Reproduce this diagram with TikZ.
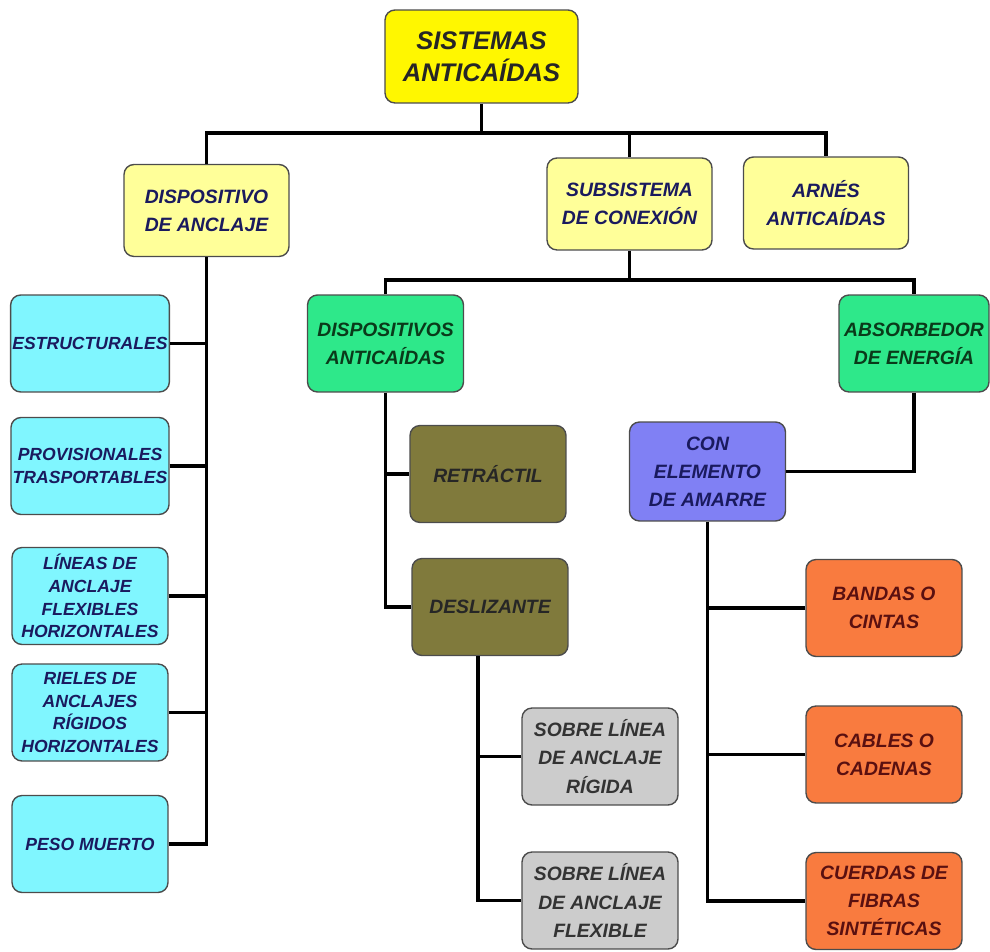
\documentclass[tikz,border=0pt]{standalone}
\usepackage{fontspec}
\setmainfont{Liberation Sans}
\usetikzlibrary{positioning,calc}
\definecolor{rootyellow}{HTML}{FFF700}
\definecolor{paleyellow}{HTML}{FFFF99}
\definecolor{tipocyan}{HTML}{80F6FF}
\definecolor{devgreen}{HTML}{2EE88A}
\definecolor{devolive}{HTML}{807A3C}
\definecolor{gearpurple}{HTML}{8080F4}
\definecolor{railgray}{HTML}{CCCCCC}
\definecolor{ropeorange}{HTML}{F97B3F}
\definecolor{navytext}{HTML}{1A1A5E}
\definecolor{greentext}{HTML}{0A3A1A}
\definecolor{redtext}{HTML}{5A1010}
\tikzset{
    caidabox/.style={draw=black!70, line width=0.8pt, rounded corners=0.2cm, align=center, inner sep=1pt, font=\bfseries\itshape\fontsize{11}{16}\selectfont, minimum width=3.12cm, minimum height=1.94cm},
    rootbox/.style={caidabox, fill=rootyellow, text=black!85, font=\bfseries\itshape\fontsize{14.5}{18}\selectfont, minimum width=3.86cm, minimum height=1.86cm},
    levelbox/.style={caidabox, fill=paleyellow, text=navytext, minimum width=3.3cm, minimum height=1.84cm},
    tipobox/.style={caidabox, fill=tipocyan, text=navytext, font=\bfseries\itshape\fontsize{10}{13}\selectfont},
    devbox/.style={caidabox, fill=devgreen, text=greentext},
    olivebox/.style={caidabox, fill=devolive, text=black!85},
    graybox/.style={caidabox, fill=railgray, text=black!80},
    amarrebox/.style={caidabox, fill=gearpurple, text=navytext, minimum height=1.98cm},
    orangebox/.style={caidabox, fill=ropeorange, text=redtext},
    caidaline/.style={line width=2.2pt, black}
}
\begin{document}
\begin{tikzpicture}[x=0.02cm, y=-0.02cm]
    \useasboundingbox (0,0) rectangle (990,952);
    % top and first level
    \node[rootbox] (sistemas) at (481.5,56.5) {SISTEMAS\\ANTICAÍDAS};
    \node[levelbox] (anclaje) at (206.5,210.5) {DISPOSITIVO\\DE ANCLAJE};
    \node[levelbox] (subsistema) at (629.5,204) {SUBSISTEMA\\DE CONEXIÓN};
    \node[levelbox] (arnes) at (826,203) {ARNÉS\\ANTICAÍDAS};
    % anchorage types
    \node[tipobox] (estructurales) at (90,343.5) {ESTRUCTURALES};
    \node[tipobox] (provisionales) at (90,466) {PROVISIONALES\\TRASPORTABLES};
    \node[tipobox] (lineas) at (90,596) {LÍNEAS DE\\ANCLAJE\\FLEXIBLES\\HORIZONTALES};
    \node[tipobox] (rieles) at (90,712.5) {RIELES DE\\ANCLAJES\\RÍGIDOS\\HORIZONTALES};
    \node[tipobox] (peso) at (90,844) {PESO MUERTO};
    % connection subsystem
    \node[devbox] (dispositivos) at (385.5,343.5) {DISPOSITIVOS\\ANTICAÍDAS};
    \node[devbox, minimum width=3.0cm] (absorbedor) at (914,343.5) {ABSORBEDOR\\DE ENERGÍA};
    \node[olivebox] (retractil) at (488,474) {RETRÁCTIL};
    \node[olivebox] (deslizante) at (490,607) {DESLIZANTE};
    \node[graybox] (rigida) at (600,756.5) {SOBRE LÍNEA\\DE ANCLAJE\\RÍGIDA};
    \node[graybox] (flexible) at (600,900.5) {SOBRE LÍNEA\\DE ANCLAJE\\FLEXIBLE};
    \node[amarrebox] (amarre) at (707.5,471.5) {CON\\ELEMENTO\\DE AMARRE};
    \node[orangebox] (bandas) at (884,608) {BANDAS O\\CINTAS};
    \node[orangebox] (cables) at (884,754.5) {CABLES O\\CADENAS};
    \node[orangebox] (cuerdas) at (884,901) {CUERDAS DE\\FIBRAS\\SINTÉTICAS};
    % connectors
    \coordinate (busA) at (481,133);
    \coordinate (busB) at (629.5,280);
    \coordinate (deslbase) at ([xshift=-0.24cm]deslizante.south);
    \draw[caidaline] (sistemas) -- (sistemas |- busA);
    \draw[caidaline] (anclaje.north) |- (busA) -| (arnes.north);
    \draw[caidaline] (subsistema.north) -- (subsistema.north |- busA);
    \draw[caidaline] (anclaje.south) |- (peso.east);
    \draw[caidaline] (estructurales.east) -- (estructurales.east -| anclaje.south);
    \draw[caidaline] (provisionales.east) -- (provisionales.east -| anclaje.south);
    \draw[caidaline] (lineas.east) -- (lineas.east -| anclaje.south);
    \draw[caidaline] (rieles.east) -- (rieles.east -| anclaje.south);
    \draw[caidaline] (subsistema.south) -- (busB);
    \draw[caidaline] (dispositivos.north) |- (busB) -| (absorbedor.north);
    \draw[caidaline] (dispositivos.south) |- (deslizante.west);
    \draw[caidaline] (retractil.west) -- (retractil.west -| dispositivos.south);
    \draw[caidaline] (deslbase) |- (flexible.west);
    \draw[caidaline] (rigida.west) -- (rigida.west -| deslbase);
    \draw[caidaline] (absorbedor.south) |- (amarre.east);
    \draw[caidaline] (amarre.south) |- (cuerdas.west);
    \draw[caidaline] (bandas.west) -- (bandas.west -| amarre.south);
    \draw[caidaline] (cables.west) -- (cables.west -| amarre.south);
\end{tikzpicture}
\end{document}
